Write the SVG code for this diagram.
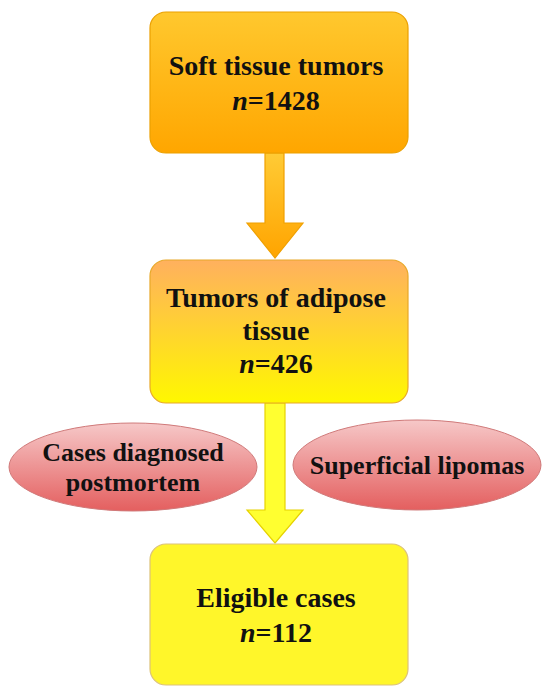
<svg xmlns="http://www.w3.org/2000/svg" width="550" height="695" viewBox="0 0 550 695">
<style>
.t{font-family:"Liberation Serif","Times New Roman",serif;font-weight:bold;font-size:28px;fill:#111;text-anchor:middle}
.e{font-size:26px}
.i{font-style:italic}
</style>
<defs>
<linearGradient id="g1" x1="0" y1="0" x2="0" y2="1"><stop offset="0" stop-color="#FFC82E"/><stop offset="1" stop-color="#FFA600"/></linearGradient>
<linearGradient id="g2" x1="0" y1="0" x2="0" y2="1"><stop offset="0" stop-color="#FFB05E"/><stop offset="1" stop-color="#FFF800"/></linearGradient>
<linearGradient id="ga" x1="0" y1="0" x2="0" y2="1"><stop offset="0" stop-color="#FFCB35"/><stop offset="1" stop-color="#FFA400"/></linearGradient>
<linearGradient id="ge" x1="0" y1="0" x2="0" y2="1"><stop offset="0" stop-color="#F6C8C8"/><stop offset="1" stop-color="#E45F5F"/></linearGradient>
</defs>
<g id="connectors">
<path d="M265,153 L284,153 L284,223 L303,223 L275,258 L247,223 L265,223 Z" fill="url(#ga)" stroke="#F0A000" stroke-width="1.2"/>
<path d="M265,403 L285,403 L285,510 L303,510 L275,543 L247,510 L265,510 Z" fill="#FFFF30" stroke="#E6D200" stroke-width="1.2"/>
</g>
<g id="n1">
<rect x="150" y="12" width="258" height="141" rx="16" fill="url(#g1)" stroke="#EBA000" stroke-width="1.2"/>
<text class="t" x="276" y="75">Soft tissue tumors</text>
<text class="t" x="276" y="110"><tspan class="i">n</tspan>=1428</text>
</g>
<g id="n2">
<rect x="150" y="260" width="258" height="143" rx="16" fill="url(#g2)" stroke="#E8A828" stroke-width="1.2"/>
<text class="t" x="276" y="307">Tumors of adipose</text>
<text class="t" x="276" y="340">tissue</text>
<text class="t" x="276" y="373"><tspan class="i">n</tspan>=426</text>
</g>
<g id="e1">
<ellipse cx="133" cy="467" rx="124" ry="44" fill="url(#ge)" stroke="#D07A7A" stroke-width="1"/>
<text class="t e" x="133" y="461">Cases diagnosed</text>
<text class="t e" x="133" y="491">postmortem</text>
</g>
<g id="e2">
<ellipse cx="417" cy="465" rx="124" ry="45" fill="url(#ge)" stroke="#D07A7A" stroke-width="1"/>
<text class="t e" x="417" y="474">Superficial lipomas</text>
</g>
<g id="n3">
<rect x="150" y="544" width="258" height="141" rx="16" fill="#FFF62A" stroke="#DCC27A" stroke-width="1.2"/>
<text class="t" x="276" y="607">Eligible cases</text>
<text class="t" x="276" y="642"><tspan class="i">n</tspan>=112</text>
</g>
</svg>
